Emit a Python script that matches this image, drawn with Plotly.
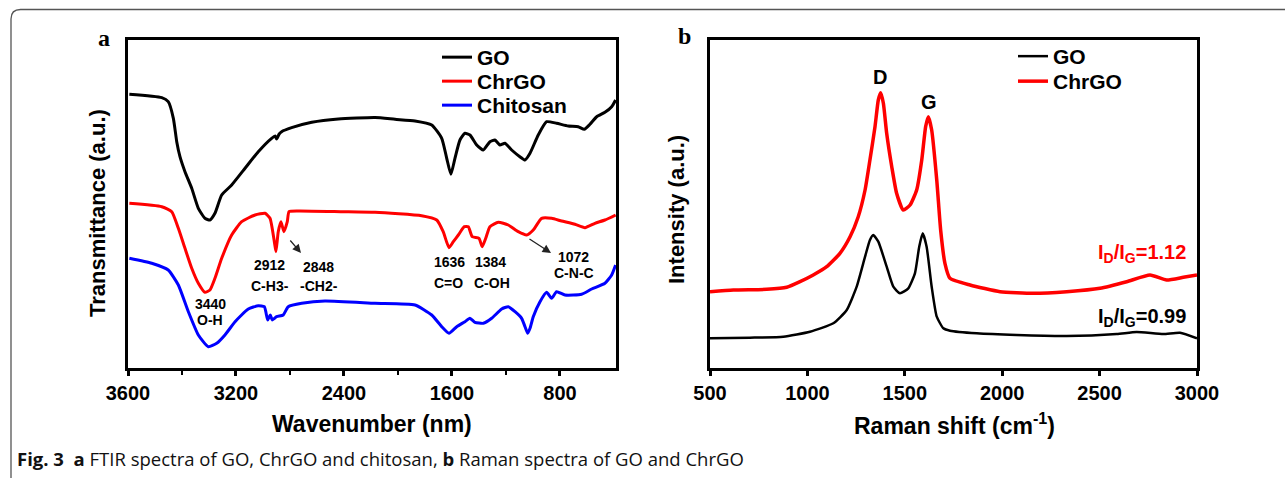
import plotly.graph_objects as go

W, H = 1285, 478

# ---------------- FTIR data (panel a) ----------------
wn_go = [3990, 3750, 3702, 3664, 3639, 3615, 3578, 3528, 3479, 3430, 3393, 3356, 3306, 3232, 3133, 3035,
         2936, 2910, 2899, 2880, 2862, 2788, 2639, 2442, 2170, 2022, 1874, 1750, 1676, 1639, 1608, 1578,
         1541, 1504, 1467, 1417, 1368, 1319, 1282, 1245, 1208, 1158, 1097, 1059, 1022, 961, 899, 825,
         739, 665, 620, 578, 528, 467, 417, 388]
t_go = [273.7, 270.3, 266.3, 249.7, 226.3, 211.3, 196.3, 179.7, 159.7, 149.7, 148, 154.7, 173, 183, 199.7, 216.3,
        229.7, 232, 229, 234, 236.3, 240.3, 245.7, 249, 250.5, 248.7, 247, 243, 229.7, 209.7, 193.7, 209.7,
        228, 234.7, 233, 223, 218, 226.3, 228, 223, 224.7, 218, 211.3, 208, 214.7, 233, 246.3, 244.7,
        242, 241.3, 238.7, 243.7, 251.3, 255.7, 261.3, 268]

wn_chrgo = [3990, 3750, 3676, 3627, 3578, 3528, 3479, 3430, 3393, 3356, 3306, 3232, 3158, 3059, 2985, 2948,
            2916, 2904, 2887, 2867, 2845, 2820, 2807, 2739, 2417, 2170, 1825, 1713, 1665, 1622, 1590, 1553,
            1509, 1479, 1450, 1400, 1376, 1350, 1319, 1257, 1183, 1109, 1047, 998, 936, 862, 788, 689,
            615, 541, 467, 388]
t_chrgo = [164.7, 161.3, 156.3, 139.7, 119.7, 99.7, 84.7, 75.7, 78, 89.7, 109.7, 133, 146.3, 153, 154.7, 149.7,
           126.3, 116.3, 136.3, 146.3, 136.3, 146.3, 156.3, 157, 156.3, 155.7, 152.3, 148, 136.3, 120.3, 126.3, 133,
           141.3, 141.3, 131.3, 129.7, 121.3, 129.7, 141.3, 145.7, 143, 136.3, 133, 138, 149.7, 149.7, 147, 143.7,
           140.3, 144.7, 148, 153]

wn_chit = [3990, 3824, 3702, 3627, 3553, 3479, 3405, 3343, 3282, 3207, 3109, 3035, 2990, 2965, 2946, 2931,
           2899, 2850, 2813, 2713, 2541, 2170, 1874, 1750, 1676, 1622, 1565, 1504, 1467, 1430, 1368, 1306,
           1232, 1183, 1133, 1084, 1059, 1039, 1022, 998, 948, 899, 862, 825, 763, 640, 565, 467, 417, 388]
t_chit = [109.7, 104.7, 98, 83, 56.3, 33, 21.3, 24.7, 33, 46.3, 59, 62.3, 61.3, 48, 53, 48,
          51.3, 53, 61.3, 64.7, 67, 64.7, 63, 53, 41.3, 34.7, 41.3, 46.3, 49.7, 45.7, 44.7, 49.7,
          59, 61.3, 56.3, 49.7, 41.3, 34.7, 39.7, 51.3, 66.3, 75.7, 69.7, 76.3, 73, 73.7, 79, 84.7, 93, 103]

ftir_tickvals = [4000, 3200, 2400, 1600, 800]
ftir_ticktext = ["3600", "3200", "2400", "1600", "800"]
ftir_minor = [3600, 2800, 2000, 1200]

# ---------------- Raman data (panel b) ----------------
rs_go = [500, 705, 876, 1013, 1133, 1202, 1253, 1296, 1321, 1338, 1364, 1407, 1441, 1475, 1518, 1552,
         1574, 1592, 1612, 1638, 1664, 1698, 1732, 1869, 2074, 2331, 2588, 2690, 2827, 2913, 3000]
i_go = [29.7, 30.3, 31.3, 36.3, 44.7, 58, 81.3, 111.3, 128, 133, 126.3, 101.3, 81.3, 74.7, 79.7, 94.7,
        121.3, 134.7, 121.3, 81.3, 51.3, 39.7, 37.3, 34.7, 33, 32, 34, 36, 34, 35.3, 29.7]

rs_chrgo = [500, 620, 791, 894, 962, 1030, 1099, 1167, 1219, 1261, 1296, 1321, 1347, 1364, 1376, 1390,
            1407, 1433, 1458, 1492, 1527, 1561, 1587, 1607, 1621, 1638, 1664, 1684, 1706, 1732, 1835, 1989,
            2160, 2331, 2502, 2639, 2759, 2844, 2930, 3000]
i_chrgo = [76.3, 78, 78.7, 80.7, 86.3, 93, 101.3, 114.7, 131.3, 151.3, 178, 208, 241.3, 268, 275.3, 264.7,
           234.7, 201.3, 174.7, 158, 163, 178, 208, 241.3, 251.3, 238, 188, 138, 104.7, 89.7, 83, 76.3,
           74.7, 76.3, 79.7, 86.3, 93, 88, 90.7, 93]

raman_ticks = [500, 1000, 1500, 2000, 2500, 3000]


def px(x):
    return x / W


def py(y):
    return 1 - y / H


SANS = "Liberation Sans, Arial, sans-serif"
fig = go.Figure()

fig.add_trace(go.Scatter(x=wn_go, y=t_go, name="GO", mode="lines", line=dict(color="black", width=3, shape="spline", smoothing=0.5), xaxis="x", yaxis="y", legend="legend"))
fig.add_trace(go.Scatter(x=wn_chrgo, y=t_chrgo, name="ChrGO", mode="lines", line=dict(color="#ff0000", width=3, shape="spline", smoothing=0.5), xaxis="x", yaxis="y", legend="legend3"))
fig.add_trace(go.Scatter(x=wn_chit, y=t_chit, name="Chitosan", mode="lines", line=dict(color="#0000ff", width=3, shape="spline", smoothing=0.5), xaxis="x", yaxis="y", legend="legend4"))

fig.add_trace(go.Scatter(x=rs_go, y=i_go, name="GO", mode="lines", line=dict(color="black", width=2.5, shape="spline", smoothing=0.5), xaxis="x2", yaxis="y2", legend="legend2"))
fig.add_trace(go.Scatter(x=rs_chrgo, y=i_chrgo, name="ChrGO", mode="lines", line=dict(color="#ff0000", width=3.5, shape="spline", smoothing=0.5), xaxis="x2", yaxis="y2", legend="legend5"))

axis_common = dict(showline=True, linewidth=3, linecolor="black", mirror=True, showgrid=False, zeroline=False)
tickfont = dict(family=SANS, size=20, color="black", weight="bold")

legend_common = dict(font=dict(family=SANS, size=21, color="black", weight="bold"), bgcolor="rgba(0,0,0,0)",
                     borderwidth=0, xanchor="left", yanchor="top", itemwidth=30, tracegroupgap=0)

fig.update_layout(
    width=W, height=H, autosize=False,
    margin=dict(l=0, r=0, t=0, b=0, pad=0, autoexpand=False),
    paper_bgcolor="white", plot_bgcolor="white",
    xaxis=dict(domain=[px(128), px(616)], range=[4000, 385], tickmode="array", tickvals=ftir_tickvals,
               ticktext=ftir_ticktext, ticks="outside", ticklen=5, tickwidth=2.5, tickcolor="black",
               tickfont=tickfont, anchor="y",
               minor=dict(tickvals=ftir_minor, ticks="outside", ticklen=4, tickwidth=2, tickcolor="black"),
               **axis_common),
    yaxis=dict(domain=[py(368), py(40)], range=[0, 328], showticklabels=False, ticks="", anchor="x", **axis_common),
    xaxis2=dict(domain=[px(710), px(1197)], range=[500, 3000], tickmode="array", tickvals=raman_ticks,
                ticks="outside", ticklen=5, tickwidth=2.5, tickcolor="black", tickfont=tickfont, anchor="y2",
                **axis_common),
    yaxis2=dict(domain=[py(368), py(40)], range=[0, 328], showticklabels=False, ticks="", anchor="x2", **axis_common),
    legend=dict(x=px(437), y=py(37), **legend_common),
    legend3=dict(x=px(437), y=py(61), **legend_common),
    legend4=dict(x=px(437), y=py(85), **legend_common),
    legend2=dict(x=px(1013), y=py(36), **legend_common),
    legend5=dict(x=px(1013), y=py(61), **legend_common),
    showlegend=True,
)

ann = []


def text(x, y, s, size=14, color="black", family=SANS, angle=0, xanchor="center"):
    ann.append(dict(x=px(x), y=py(y), xref="paper", yref="paper", text=s, showarrow=False,
                    font=dict(family=family, size=size, color=color), textangle=angle,
                    xanchor=xanchor, yanchor="middle"))


# panel labels
text(104, 38, "<b>a</b>", size=24, family="Liberation Serif, Times New Roman, serif")
text(684, 36, "<b>b</b>", size=24, family="Liberation Serif, Times New Roman, serif")

# axis titles
text(372, 424, "<b>Wavenumber (nm)</b>", size=23)
text(954, 424, "<b>Raman shift (cm<sup>-1</sup>)</b>", size=23)
text(97, 213, "<b>Transmittance (a.u.)</b>", size=22, angle=-90)
text(676, 210, "<b>Intensity (a.u.)</b>", size=22, angle=-90)

# FTIR peak labels
text(210, 304, "<b>3440</b>")
text(210, 320, "<b>O-H</b>")
text(269, 265, "<b>2912</b>")
text(270, 286, "<b>C-H3-</b>")
text(318, 267, "<b>2848</b>")
text(319, 286, "<b>-CH2-</b>")
text(449, 262, "<b>1636</b>")
text(448, 283, "<b>C=O</b>")
text(491, 262, "<b>1384</b>")
text(492, 283, "<b>C-OH</b>")
text(573, 257, "<b>1072</b>")
text(574, 273, "<b>C-N-C</b>")

# Raman labels
text(880, 77, "<b>D</b>", size=20)
text(929, 102, "<b>G</b>", size=20)
text(1188, 253, "<b>I<sub>D</sub>/I<sub>G</sub>=1.12</b>", size=20, color="#ff0000", xanchor="right")
text(1188, 317, "<b>I<sub>D</sub>/I<sub>G</sub>=0.99</b>", size=20, xanchor="right")

# caption
ann.append(dict(x=px(15), y=py(458), xref="paper", yref="paper", showarrow=False, xanchor="left", yanchor="middle",
                text="<b>Fig. 3</b>  <b>a</b> FTIR spectra of GO, ChrGO and chitosan, <b>b</b> Raman spectra of GO and ChrGO",
                font=dict(family="Open Sans, Noto Sans, sans-serif", size=18.5, color="#111111")))

# arrows
for (hx, hy, tx, ty) in [(301, 253, 289, 239), (551, 253, 528, 238)]:
    ann.append(dict(x=px(hx), y=py(hy), xref="paper", yref="paper", ax=tx - hx, ay=ty - hy,
                    axref="pixel", ayref="pixel", showarrow=True, arrowhead=2, arrowsize=1.3,
                    arrowwidth=1.3, arrowcolor="#222222", text=""))

fig.update_layout(annotations=ann)

# figure frame (rounded top-left corner)
fig.add_shape(type="path", xref="paper", yref="paper",
              path=f"M {px(11)},{py(478)} L {px(11)},{py(19)} Q {px(11)},{py(9.5)} {px(20.5)},{py(9.5)} L {px(1285)},{py(9.5)}",
              line=dict(color="#555555", width=1.3))

fig.write_html(
    "out.html",
    config={"displayModeBar": False},
    post_script="document.documentElement.style.margin='0';document.body.style.margin='0';"
                "document.documentElement.style.overflow='hidden';document.body.style.overflow='hidden';",
)
